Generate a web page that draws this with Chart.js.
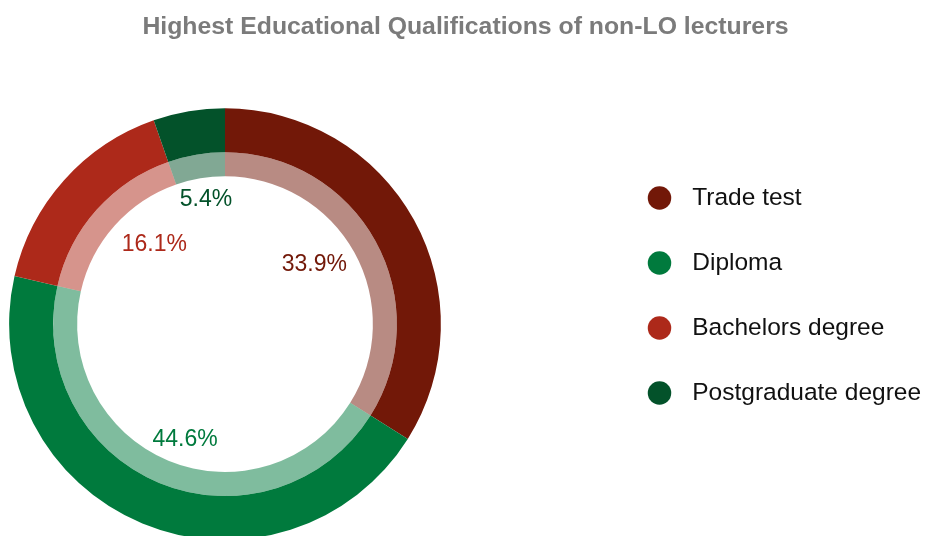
<!DOCTYPE html>
<html>
<head>
<meta charset="utf-8">
<title>Highest Educational Qualifications of non-LO lecturers</title>
<script src="https://cdn.jsdelivr.net/npm/chart.js@4.4.1/dist/chart.umd.min.js"></script>
<style>
  html, body { margin: 0; padding: 0; background: #fff; overflow: hidden; }
  #wrap { width: 931px; height: 536px; overflow: hidden; }
</style>
</head>
<body>
<div id="wrap"><canvas id="qualChart" width="931" height="540"></canvas></div>
<script>
const categories = ["Trade test", "Diploma", "Bachelors degree", "Postgraduate degree"];
const lecturerCounts = [19, 25, 9, 3];
const ringColors = ["#721808", "#007A3D", "#AD291A", "#03522A"];
const innerRingColors = ringColors.map((c) => c + "80"); // same hues, half opacity

const FONT = "'Liberation Sans', Arial, Helvetica, sans-serif";
Chart.defaults.font.family = FONT;

// legend marker: wide transparent canvas with the dot near its right edge,
// so the dot sits further from the left of the legend box than a stock marker
const LEGEND_BOX_W = 174;
function makeDot(color) {
  const c = document.createElement("canvas");
  c.width = LEGEND_BOX_W;
  c.height = 26;
  const g = c.getContext("2d");
  g.fillStyle = color;
  g.beginPath();
  g.arc(LEGEND_BOX_W - 20.5, 13, 11.75, 0, Math.PI * 2);
  g.fill();
  return c;
}
const legendDots = ringColors.map(makeDot);

// the legend can't be wider than half the canvas, so widen the plot area to the
// left a bit to put the ring where it sits in the original
const PLOT_SHIFT = 15.5;
const plotShift = {
  id: "plotShift",
  afterLayout(chart) {
    chart.chartArea.left -= PLOT_SHIFT;
    chart.chartArea.width += PLOT_SHIFT;
  },
};

// percentage labels placed just inside the pale ring, like datalabels anchor/align "start"
const pctLabels = {
  id: "pctLabels",
  afterDatasetsDraw(chart) {
    const { ctx } = chart;
    const meta = chart.getDatasetMeta(1);
    const total = lecturerCounts.reduce((a, b) => a + b, 0);
    const size = 23;
    ctx.save();
    ctx.font = size + "px " + FONT;
    ctx.textAlign = "center";
    ctx.textBaseline = "middle";
    meta.data.forEach((arc, i) => {
      const { x, y, startAngle, endAngle, innerRadius } = arc.getProps(
        ["x", "y", "startAngle", "endAngle", "innerRadius"], true);
      const mid = (startAngle + endAngle) / 2;
      const vx = -Math.cos(mid);
      const vy = -Math.sin(mid);
      const text = ((lecturerCounts[i] / total) * 100).toFixed(1) + "%";
      const w = ctx.measureText(text).width + 8;
      const h = size * 1.2 + 8;
      const s = 1 / Math.max(Math.abs(vx), Math.abs(vy));
      const lx = x + Math.cos(mid) * innerRadius + vx * 4 + (vx * s * w) / 2;
      const ly = y + Math.sin(mid) * innerRadius + vy * 4 + (vy * s * h) / 2;
      ctx.fillStyle = ringColors[i];
      ctx.fillText(text, lx, ly);
    });
    ctx.restore();
  },
};

const baseLabels = Chart.overrides.doughnut.plugins.legend.labels.generateLabels;

new Chart(document.getElementById("qualChart"), {
  type: "doughnut",
  data: {
    labels: categories,
    datasets: [
      {
        data: lecturerCounts,
        backgroundColor: ringColors,
        borderWidth: 0,
        hoverOffset: 0,
        weight: 44,
      },
      {
        data: lecturerCounts,
        backgroundColor: innerRingColors,
        borderWidth: 0,
        hoverOffset: 0,
        weight: 24,
      },
    ],
  },
  options: {
    responsive: false,
    animation: false,
    events: [],
    cutout: "68.5%",
    plugins: {
      tooltip: { enabled: false },
      title: {
        display: true,
        text: "Highest Educational Qualifications of non-LO lecturers",
        color: "#7b7b7b",
        font: { size: 24.8, weight: "bold" },
        padding: { top: 12.5, bottom: 66 },
      },
      legend: {
        position: "right",
        title: { display: true, text: " ", padding: 0, font: { lineHeight: "51px" } },
        labels: {
          color: "#111",
          font: { size: 24.5 },
          padding: 40.5,
          usePointStyle: true,
          pointStyleWidth: LEGEND_BOX_W,
          generateLabels(chart) {
            return baseLabels(chart).map((item, i) => ({ ...item, pointStyle: legendDots[i] }));
          },
        },
      },
    },
  },
  plugins: [plotShift, pctLabels],
});
</script>
</body>
</html>
